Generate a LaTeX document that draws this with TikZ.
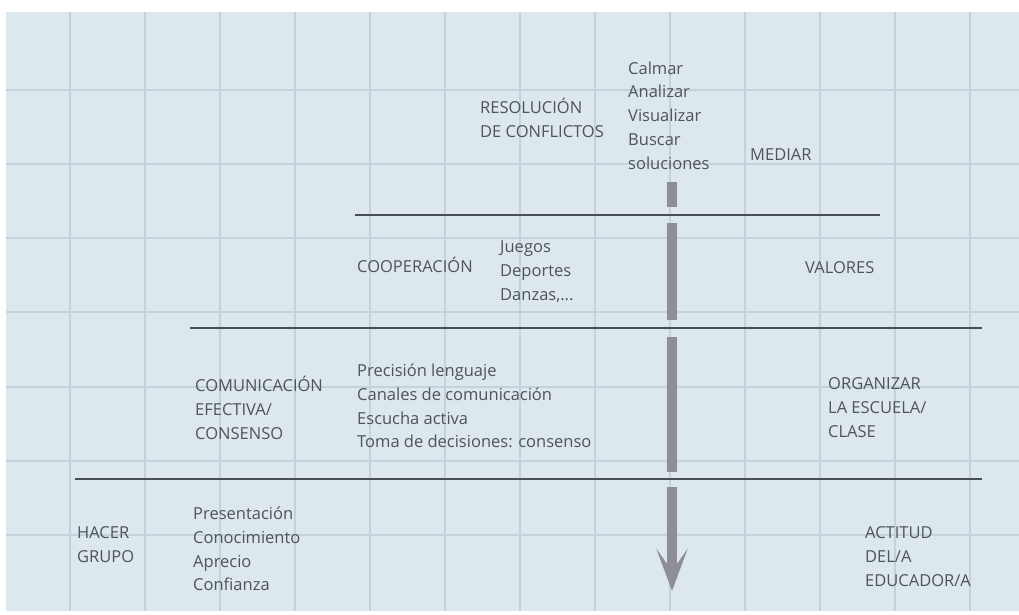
\documentclass[tikz,border=0pt]{standalone}
\usepackage{fontspec}
\setmainfont{Open Sans}
\usetikzlibrary{arrows.meta,positioning}
\definecolor{paper}{HTML}{DCE7EE}
\definecolor{gridline}{HTML}{C3D2DB}
\definecolor{ink}{HTML}{4A4F55}
\definecolor{txt}{HTML}{4F5459}
\definecolor{bar}{HTML}{8E8F94}

\begin{document}
\begin{tikzpicture}[x=1pt, y=-1pt,
        level/.style={draw=ink, line width=2.5pt},
        caps/.style={text=txt, align=left, anchor=west, inner sep=0pt, font=\fontsize{16.5}{24}\selectfont},
        items/.style={caps, font=\fontsize{16.5}{23.8}\selectfont},
        flow/.style={draw=bar, line width=10pt}
    ]
    \useasboundingbox (0,0) rectangle (1019,614);
    \fill[white] (0,0) rectangle (1019,614);
    \fill[paper] (6,12) rectangle (1019,611);
    % squared paper
    \foreach \x in {70,145,...,970}
        \draw[gridline, line width=1.6pt] (\x,12) -- (\x,611);
    \foreach \y in {90,164,238,312,387,461,535}
        \draw[gridline, line width=1.6pt] (6,\y) -- (1019,\y);

    % the four levels
    \coordinate (top l) at (355,215);  \coordinate (top r) at (880,215);
    \coordinate (mid l) at (190,328);  \coordinate (mid r) at (982,328);
    \coordinate (low l) at (75,479);   \coordinate (low r) at (982,479);
    \draw[level] (top l) -- (top r);
    \draw[level] (mid l) -- (mid r);
    \draw[level] (low l) -- (low r);

    \node[caps] (resol) at (480,118) {RESOLUCIÓN\\DE CONFLICTOS};
    \node[items] (pasos) at (628,115.5) {Calmar\\Analizar\\Visualizar\\Buscar\\soluciones};
    \node[caps] (mediar) at (750,155) {MEDIAR};

    \node[caps] (coop) at (357,265) {COOPERACIÓN};
    \node[items] (juegos) at (500,271.5) {Juegos\\Deportes\\Danzas,...};
    \node[caps] (valores) at (805,268) {VALORES};

    \node[caps] (comun) at (195,407.5) {COMUNICACIÓN\\EFECTIVA/\\CONSENSO};
    \node[items] (habil) at (357,406) {Precisión lenguaje\\Canales de comunicación\\Escucha activa\\Toma de decisiones: consenso};
    \node[caps] (organizar) at (828,407.5) {ORGANIZAR\\LA ESCUELA/\\CLASE};

    \node[caps] (hacer) at (77,544.5) {HACER\\GRUPO};
    \node[items] (grupo) at (193,549) {Presentación\\Conocimiento\\Aprecio\\Confianza};
    \node[caps] (actitud) at (865,557) {ACTITUD\\DEL/A\\EDUCADOR/A};

    % downward arrow, broken at each level
    \coordinate (f0) at (672,182);  \coordinate (f1) at (672,207);
    \coordinate (f2) at (672,223);  \coordinate (f3) at (672,320);
    \coordinate (f4) at (672,337);  \coordinate (f5) at (672,472);
    \coordinate (f6) at (672,487);  \coordinate (f7) at (672,591);
    \draw[flow] (f0) -- (f1);
    \draw[flow] (f2) -- (f3);
    \draw[flow] (f4) -- (f5);
    \draw[flow, -{Stealth[length=42pt, width=31pt, inset=22pt]}] (f6) -- (f7);
\end{tikzpicture}
\end{document}
